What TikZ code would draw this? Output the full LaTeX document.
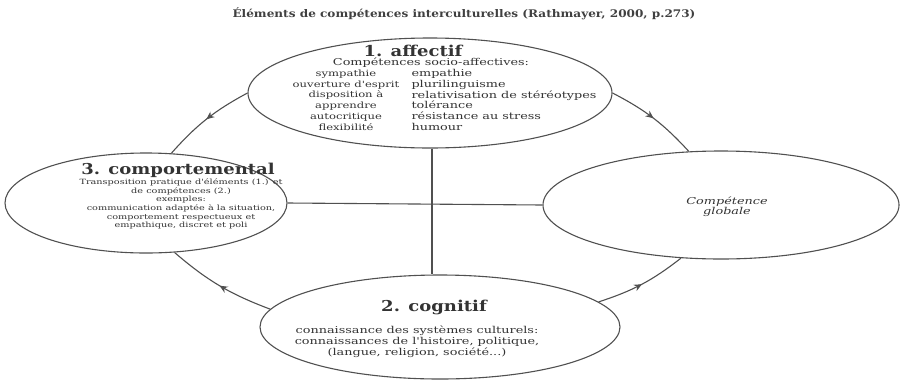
\documentclass[tikz,border=0pt]{standalone}
\usepackage{fontspec}
\setmainfont{DejaVu Serif}
\newfontfamily\widefont[FakeStretch=1.35]{DejaVu Serif}
\newfontfamily\titlefont[FakeStretch=1.15]{DejaVu Serif}
\newfontfamily\headfont[FakeStretch=1.2]{DejaVu Serif}
\usetikzlibrary{arrows.meta,shapes.geometric,decorations.markings}
\definecolor{sketchgray}{HTML}{505050}

\begin{document}
\begin{tikzpicture}[
    x=1pt, y=-1pt,
    sphere/.style={ellipse, draw=sketchgray, line width=1.1pt, inner sep=0pt},
    link/.style={draw=sketchgray, line width=1.1pt},
    flow/.style={link, postaction={decorate}, decoration={markings, mark=at position 0.5 with {\arrow{Stealth[length=8pt,width=7pt]}}}},
    head/.style={font=\headfont\fontsize{15}{16}\selectfont\bfseries, text=black!80},
    body/.style={font=\widefont\fontsize{9.5}{10.8}\selectfont, text=black!80},
    small/.style={font=\widefont\fontsize{7.2}{8.6}\selectfont, text=black!80, align=center}
]
\useasboundingbox (0,0) rectangle (902,381);

% Title
\node[font=\titlefont\fontsize{10.5}{12}\selectfont\bfseries, text=black!75] (title) at (464,14) {Éléments de compétences interculturelles (Rathmayer, 2000, p.273)};

% Ellipses
\node[sphere, minimum width=364pt, minimum height=110pt] (affect) at (430,93) {};
\node[sphere, minimum width=282pt, minimum height=100pt] (behav) at (146,203) {};
\node[sphere, minimum width=356pt, minimum height=108pt] (situ) at (721,205) {};
\node[sphere, minimum width=360pt, minimum height=104pt] (cogn) at (440,327) {};

% 1. affectif
\node[head] (affecthead) at (413,51) {1. affectif};
\node[body] (affectsub) at (431,63) {Compétences socio-affectives:};
\node[body, align=center, font=\widefont\fontsize{8.6}{10.8}\selectfont] (affectleft) at (346,100) {sympathie\\ouverture d'esprit\\disposition à\\apprendre\\autocritique\\flexibilité};
\node[body, align=left, anchor=west] (affectright) at (408,100) {empathie\\plurilinguisme\\relativisation de stéréotypes\\tolérance\\résistance au stress\\humour};

% 3. comportemental
\node[head] (behavhead) at (178,170) {3. comportemental};
\node[small] (behavtext) at (181,204) {Transposition pratique d'éléments (1.) et\\de compétences (2.)\\exemples:\\communication adaptée à la situation,\\comportement respectueux et\\empathique, discret et poli};

% situation
\node[body, align=center, font=\widefont\fontsize{9.5}{10}\selectfont\itshape] (situtext) at (727,207) {Compétence\\globale};

% 2. cognitif
\node[head] (cognhead) at (434,307) {2. cognitif};
\node[body, align=center] (cogntext) at (417,342) {connaissance des systèmes culturels:\\connaissances de l'histoire, politique,\\(langue, religion, société...)};

% Cross
\coordinate (hub) at (432,204);
\draw[link] (hub |- affect.south) -- (hub |- cogn.north);
\draw[link] (behav.east) -- (situ.west);

% Arrows
\draw[flow] (affect.west) to[bend right=10] (behav.63);
\draw[flow] (affect.east) to[bend left=10] (situ.121);
\draw[flow] (cogn.174) to[bend left=10] (behav.300);
\draw[flow] (cogn.9) to[bend right=10] (situ.233);

\end{tikzpicture}
\end{document}
